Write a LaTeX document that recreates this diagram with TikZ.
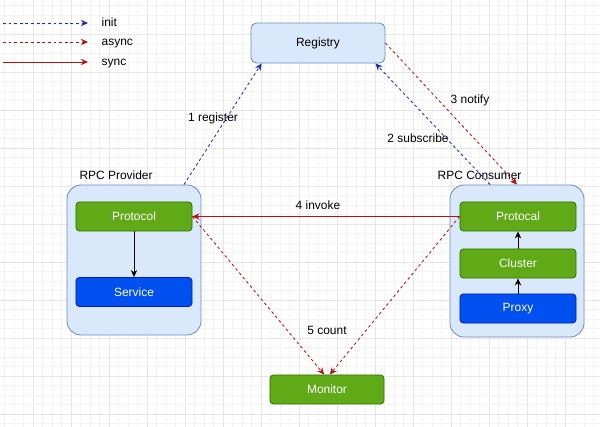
\documentclass[tikz,border=0pt]{standalone}
\usepackage{fontspec}
\setmainfont{Liberation Sans}
\usetikzlibrary{arrows.meta,positioning,calc}

\definecolor{regfill}{HTML}{DAE8FC}
\definecolor{regdraw}{HTML}{6C8EBF}
\definecolor{grnfill}{HTML}{60A917}
\definecolor{grndraw}{HTML}{2D7600}
\definecolor{blufill}{HTML}{0050EF}
\definecolor{bludraw}{HTML}{001DBC}
\definecolor{syncred}{HTML}{B80F0F}
\definecolor{initblue}{HTML}{1E28C8}
\definecolor{gridmin}{HTML}{F4F4F4}
\definecolor{gridmaj}{HTML}{E6E6E6}

\begin{document}
\begin{tikzpicture}[
    x=0.025cm, y=-0.025cm,
    every node/.style={font=\fontsize{8.5}{10}\selectfont},
    regbox/.style={draw=regdraw, fill=regfill, rectangle, rounded corners=4pt, line width=0.6pt, minimum width=3.35cm, minimum height=1cm},
    container/.style={draw=regdraw, fill=regfill, rectangle, rounded corners=10pt, line width=0.6pt, minimum width=3.35cm},
    greenbox/.style={draw=grndraw, fill=grnfill, text=white, rectangle, rounded corners=2.5pt, line width=0.6pt, minimum width=2.9cm, minimum height=0.725cm},
    bluebox/.style={greenbox, draw=bludraw, fill=blufill},
    arrow/.style={-{Stealth[length=5pt,width=4.5pt]}, line width=0.6pt},
    initarrow/.style={arrow, initblue, dash pattern=on 2pt off 2pt},
    asyncarrow/.style={arrow, syncred, dash pattern=on 2pt off 2pt},
    syncarrow/.style={arrow, syncred}
]
    \useasboundingbox (0,0) rectangle (600,427);

    % 0. Background grid
    \foreach \gx in {0,...,63} \draw[gridmin, line width=0.3pt] (4.5+9.5*\gx,0) -- (4.5+9.5*\gx,427);
    \foreach \gy in {0,...,44} \draw[gridmin, line width=0.3pt] (0,5.5+9.5*\gy) -- (600,5.5+9.5*\gy);
    \foreach \gx in {0,...,15} \draw[gridmaj, line width=0.4pt] (33+38*\gx,0) -- (33+38*\gx,427);
    \foreach \gy in {0,...,11} \draw[gridmaj, line width=0.4pt] (0,34+38*\gy) -- (600,34+38*\gy);

    % 1. Legend (Top Left)
    \node[anchor=base west, inner sep=1pt] (initlbl) at (100,26.5) {init};
    \node[anchor=base west, inner sep=1pt] (asynclbl) at (100,45.5) {async};
    \node[anchor=base west, inner sep=1pt] (synclbl) at (100,65.5) {sync};
    \coordinate (initstart) at (3,23);
    \coordinate (asyncstart) at (3,42);
    \coordinate (syncstart) at (3,62);
    \coordinate (initend) at (88,23);
    \coordinate (asyncend) at (88,42);
    \coordinate (syncend) at (88,62);
    \draw[initarrow] (initstart) -- (initend);
    \draw[asyncarrow] (asyncstart) -- (asyncend);
    \draw[syncarrow] (syncstart) -- (syncend);

    % 2. Registry (Top)
    \node[regbox] (registry) at (318,43) {Registry};

    % 3. Provider container (Left)
    \node[container, minimum height=3.75cm] (provider) at (134,260) {};
    \node[anchor=south west] (provlbl) at ([xshift=0.2cm]provider.north west) {RPC Provider};
    \node[greenbox] (pproto) at (134,216.5) {Protocol};
    \node[bluebox] (service) at (134,292) {Service};

    % 4. Consumer container (Right)
    \node[container, minimum height=3.8cm] (consumer) at (517,261) {};
    \node[anchor=south west] (conslbl) at ([xshift=-0.42cm]consumer.north west) {RPC Consumer};
    \node[greenbox] (cproto) at (518,216.5) {Protocal};
    \node[greenbox] (cluster) at (518,263.5) {Cluster};
    \node[bluebox] (proxy) at (518,308.5) {Proxy};

    % 5. Monitor (Bottom)
    \node[greenbox, minimum width=2.85cm] (monitor) at (327,389.5) {Monitor};

    % 6. Connections
    \draw[arrow] (pproto) -- (service);
    \draw[arrow] (proxy) -- (cluster);
    \draw[arrow] (cluster) -- (cproto);

    \draw[initarrow] ([xshift=1.25cm]provider.north) -- ([xshift=0.275cm]registry.south west);
    \draw[initarrow] ([xshift=-0.675cm]consumer.north) -- ([xshift=-0.25cm]registry.south east);
    \draw[asyncarrow] (registry.east) -- (consumer.north);
    \draw[syncarrow] (cproto.west) -- (pproto.east);
    \draw[asyncarrow] (pproto.east) -- ([xshift=-0.07cm]monitor.north);
    \draw[asyncarrow] (cproto.west) -- ([xshift=0.07cm]monitor.north);

    % 7. Labels
    \node (reglbl) at (213,118) {1 register};
    \node (sublbl) at (418,138) {2 subscribe};
    \node (notlbl) at (470,100) {3 notify};
    \node (invlbl) at (318,205) {4 invoke};
    \node (cntlbl) at (327,330) {5 count};

\end{tikzpicture}
\end{document}
